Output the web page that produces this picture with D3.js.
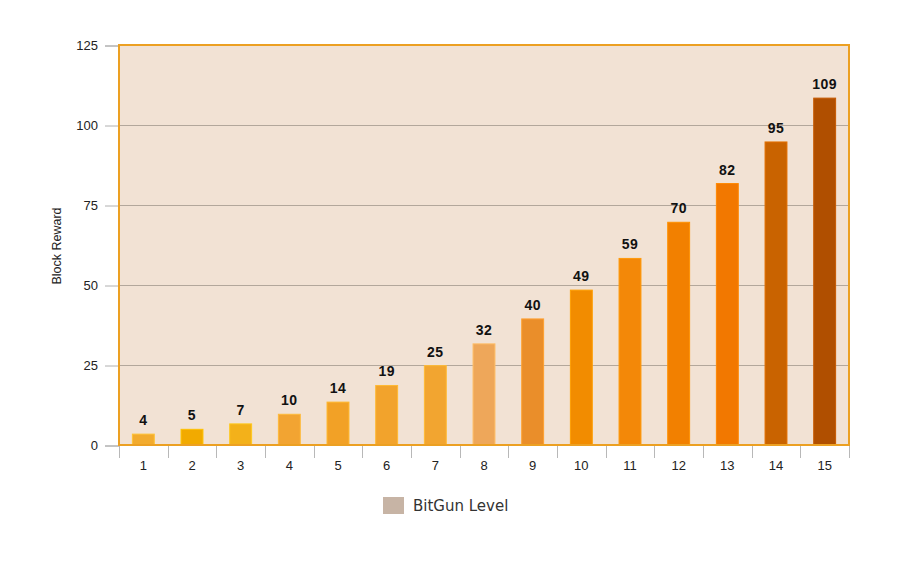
<!DOCTYPE html>
<html>
<head>
<meta charset="utf-8">
<script src="https://cdn.jsdelivr.net/npm/d3@7"></script>
<style>
  html, body { margin: 0; padding: 0; background: #ffffff; }
  svg { display: block; }
</style>
</head>
<body>
<svg id="chart" width="900" height="574"></svg>
<script>
// ---- data ----
const levels = ["1","2","3","4","5","6","7","8","9","10","11","12","13","14","15"];
const rewards = [3.4, 4.9, 6.6, 9.6, 13.4, 18.6, 24.8, 31.6, 39.4, 48.4, 58.3, 69.6, 81.7, 94.7, 108.4];
const rewardLabels = ["4","5","7","10","14","19","25","32","40","49","59","70","82","95","109"];
const barColors = ["#f2ab2e","#f2aa00","#f3b11a","#f2a432","#f2a126","#f2a32c","#f2a530","#eea75a","#ea8e2a","#f28c00","#f38808","#f28000","#f27800","#c96300","#b04f00"];
const yTicks = [0, 25, 50, 75, 100, 125];
const yTitle = "Block Reward";
const legendLabel = "BitGun Level";

// ---- layout ----
const svg = d3.select("#chart");
const L = 119, R = 849, T = 45, B = 445;

const x = d3.scaleBand().domain(levels).range([L, R]).paddingInner(0.55).paddingOuter(0.275);
const xb = d3.scaleBand().domain(levels).range([L, R]);
const y = d3.scaleLinear().domain([0, 125]).range([B, T]);

// plot background
svg.append("rect").attr("x", L).attr("y", T).attr("width", R - L).attr("height", B - T)
  .attr("fill", "#f2e2d4");

// gridlines
svg.append("g").selectAll("line").data(yTicks.filter(d => d > 0 && d < 125)).join("line")
  .attr("x1", L).attr("x2", R)
  .attr("y1", d => y(d) + 0.5).attr("y2", d => y(d) + 0.5)
  .attr("stroke", "#b3a79b").attr("stroke-width", 1);

// y axis
const yAxis = d3.axisLeft(y).tickValues(yTicks).tickSize(14).tickPadding(7);
const gy = svg.append("g").attr("transform", `translate(${L},0.5)`).call(yAxis);
gy.select(".domain").attr("stroke", "#b0b0b0");
gy.selectAll(".tick line").attr("stroke", "#b0b0b0");
gy.selectAll(".tick text").attr("font-family", "Liberation Sans, Arial, sans-serif")
  .attr("font-size", 13).attr("fill", "#222");

// x axis: ticks at band boundaries
const gx = svg.append("g").attr("transform", `translate(0,${B})`);
const boundaries = levels.map(d => xb(d)).concat([R]);
gx.selectAll("line.tk").data(boundaries).join("line").attr("class", "tk")
  .attr("x1", d => Math.round(d) + 0.5).attr("x2", d => Math.round(d) + 0.5)
  .attr("y1", 0).attr("y2", 13).attr("stroke", "#b8b8b8");
gx.selectAll("text").data(levels).join("text")
  .attr("x", d => xb(d) + xb.bandwidth() / 2).attr("y", 25)
  .attr("text-anchor", "middle")
  .attr("font-family", "Liberation Sans, Arial, sans-serif")
  .attr("font-size", 13).attr("fill", "#222").text(d => d);

// bars
svg.append("g").selectAll("rect").data(levels).join("rect")
  .attr("x", d => x(d)).attr("width", x.bandwidth())
  .attr("y", (d, i) => y(rewards[i])).attr("height", (d, i) => B - y(rewards[i]))
  .attr("fill", (d, i) => barColors[i])
  .attr("stroke", (d, i) => d3.color(barColors[i]).brighter(0.35))
  .attr("stroke-width", 1);

// value labels
svg.append("g").selectAll("text").data(levels).join("text")
  .attr("x", d => x(d) + x.bandwidth() / 2)
  .attr("y", (d, i) => y(rewards[i]) - 9)
  .attr("text-anchor", "middle")
  .attr("font-family", "Liberation Sans, Arial, sans-serif")
  .attr("font-size", 14).attr("font-weight", "bold")
  .attr("letter-spacing", "0.5px")
  .attr("fill", "#111").text((d, i) => rewardLabels[i]);

// plot border
svg.append("rect").attr("x", L).attr("y", T).attr("width", R - L).attr("height", B - T)
  .attr("fill", "none").attr("stroke", "#eca022").attr("stroke-width", 2);

// y title
svg.append("text")
  .attr("transform", `translate(61,${(T + B) / 2 + 1}) rotate(-90)`)
  .attr("text-anchor", "middle")
  .attr("font-family", "Liberation Sans, Arial, sans-serif")
  .attr("font-size", 12.5).attr("fill", "#222").text(yTitle);

// legend
const lg = svg.append("g").attr("transform", "translate(383,497)");
lg.append("rect").attr("width", 21).attr("height", 17).attr("fill", "#c7b4a5");
lg.append("text").attr("x", 30).attr("y", 14)
  .attr("font-family", "DejaVu Sans, sans-serif")
  .attr("font-size", 15).attr("fill", "#333").text(legendLabel);
</script>
</body>
</html>
